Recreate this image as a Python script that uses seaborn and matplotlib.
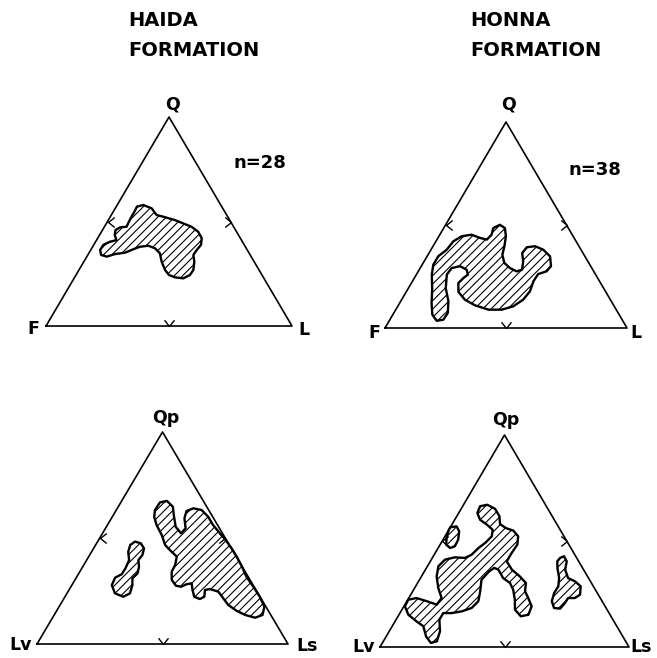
import numpy as np
import pandas as pd
import matplotlib
matplotlib.use("Agg")
import matplotlib.pyplot as plt
import seaborn as sns
from matplotlib.path import Path

# Haida Formation, Q-F-L field outline (% Q, % L; F is the rest)
haida_qfl_q = [54.7, 57.1, 57.9, 56.3, 53.1, 52.3, 50.7, 49.1, 47.5, 45.1, 42.0, 38.8, 36.4, 34.0,
               30.8, 26.8, 24.4, 22.8, 23.3, 24.4, 26.8, 30.8, 34.8, 37.2, 38.4, 37.9, 36.7, 35.1,
               34.4, 33.2, 34.0, 36.4, 38.8, 40.3, 41.1, 43.5, 45.9, 47.2, 47.5, 49.4, 52.3]
haida_qfl_l = [8.6, 8.4, 10.6, 14.8, 18.4, 21.5, 27.0, 31.2, 35.4, 39.3, 42.3, 43.6, 43.1, 42.9,
               44.9, 46.5, 46.3, 44.4, 40.7, 37.8, 35.0, 31.6, 28.9, 25.7, 22.4, 19.2, 17.1, 14.6,
               10.8, 8.1, 5.4, 3.8, 3.9, 5.8, 8.1, 6.2, 5.3, 6.5, 9.0, 8.8, 8.6]

# Honna Formation, Q-F-L field outline
honna_qfl_q = [50.1, 48.5, 44.5, 39.7, 35.6, 31.6, 29.1, 27.5, 28.3, 32.4, 36.4, 39.2, 39.7, 38.0,
               34.8, 30.0, 27.5, 26.2, 22.7, 17.8, 13.7, 10.5, 8.9, 8.9, 11.0, 13.7, 17.5, 21.8,
               24.3, 25.9, 28.3, 30.0, 29.1, 25.9, 19.4, 13.0, 7.3, 4.0, 3.5, 6.5, 12.1, 18.6,
               25.9, 30.7, 34.8, 38.0, 42.1, 44.5, 45.3, 43.7, 42.9, 45.3, 48.5]
honna_qfl_l = [22.4, 25.3, 27.7, 29.5, 30.7, 33.5, 37.1, 40.6, 42.5, 40.9, 38.5, 39.0, 42.2, 46.4,
               50.8, 53.6, 53.0, 50.2, 50.0, 51.0, 50.2, 47.7, 43.8, 38.3, 31.7, 26.2, 21.6, 19.4,
               20.3, 21.3, 19.6, 16.0, 13.0, 12.6, 15.4, 19.7, 22.3, 22.1, 19.6, 16.3, 13.2, 10.2,
               6.4, 4.6, 4.6, 6.5, 7.2, 9.4, 13.1, 17.5, 20.6, 21.4, 20.5]

# Haida Formation, Qp-Lv-Ls fields (% Qp, % Ls; Lv is the rest)
haida_qpl_small_q = [48.3, 47.5, 45.1, 42.0, 39.6, 36.5, 33.3, 31.0, 27.8, 23.9, 22.3, 23.9, 27.8,
                     31.3, 32.9, 35.7, 39.6, 43.5, 46.7]
haida_qpl_small_ls = [14.9, 17.6, 20.1, 21.0, 20.6, 22.4, 23.4, 22.5, 24.1, 25.1, 23.2, 19.1, 15.9,
                      15.5, 17.3, 17.4, 16.9, 14.6, 13.8]
haida_qpl_big_q = [63.2, 66.8, 67.5, 64.8, 60.0, 55.3, 52.2, 54.6, 59.3, 62.7, 64.0, 63.2, 60.0,
                   56.1, 52.2, 49.5, 45.1, 41.2, 36.5, 31.7, 27.0, 22.3, 17.6, 13.7, 12.4, 13.7,
                   15.6, 18.4, 22.3, 24.7, 25.9, 25.5, 22.3, 21.2, 22.3, 25.5, 28.6, 28.2, 27.0,
                   27.5, 30.2, 34.1, 37.3, 41.2, 44.3, 46.7, 51.4, 56.1, 60.0]
haida_qpl_big_ls = [15.4, 15.6, 18.0, 21.7, 24.6, 27.6, 31.3, 31.9, 29.1, 28.2, 30.3, 34.0, 38.2,
                    42.1, 46.8, 50.1, 55.0, 59.0, 63.4, 67.6, 72.7, 77.6, 81.8, 83.0, 80.7, 76.1,
                    71.8, 67.0, 62.6, 59.9, 55.9, 54.2, 55.5, 54.3, 51.5, 49.2, 47.3, 45.5, 43.9,
                    41.6, 38.6, 36.6, 36.4, 35.1, 30.8, 27.7, 24.0, 19.6, 16.7]

# Honna Formation, Qp-Lv-Ls fields
honna_qpl_oval_q = [56.5, 56.9, 54.6, 50.6, 47.5, 46.7, 48.3, 52.2, 55.3]
honna_qpl_oval_ls = [0.0, 2.3, 4.5, 6.1, 6.3, 4.8, 2.4, 0.7, 0.0]
honna_qpl_big_q = [66.4, 67.1, 65.2, 61.7, 58.0, 56.1, 54.9, 52.2, 48.3, 44.3, 40.4, 36.5, 33.3,
                   30.2, 26.3, 23.1, 19.2, 15.2, 14.5, 17.6, 22.3, 27.0, 30.2, 32.5, 36.5, 37.3,
                   35.7, 31.7, 26.3, 21.6, 18.4, 16.8, 16.0, 16.0, 12.9, 7.4, 2.7, 1.9, 5.0, 9.8,
                   12.1, 15.2, 19.2, 22.3, 23.1, 21.6, 20.0, 23.1, 27.8, 33.3, 38.1, 41.2, 42.3,
                   42.0, 43.5, 46.7, 49.1, 52.2, 55.3, 57.7, 60.0, 63.2]
honna_qpl_big_ls = [7.0, 9.5, 13.6, 17.1, 19.2, 22.5, 26.1, 29.4, 31.0, 30.7, 30.7, 34.7, 39.5,
                    43.5, 45.1, 48.0, 51.3, 52.0, 49.3, 45.4, 43.0, 40.0, 37.1, 33.2, 29.3, 27.2,
                    26.0, 24.9, 27.1, 28.7, 27.6, 24.4, 20.8, 17.4, 17.4, 20.4, 21.5, 19.5, 16.0,
                    12.5, 8.6, 3.8, 0.4, 0.2, 3.1, 8.0, 12.8, 13.2, 9.5, 6.1, 4.4, 5.5, 8.9, 13.1,
                    15.0, 16.2, 17.7, 18.8, 17.6, 14.1, 10.2, 7.5]
honna_qpl_right_q = [42.0, 42.8, 40.4, 36.5, 32.5, 31.0, 28.6, 24.7, 23.1, 23.1, 20.8, 18.1, 18.4,
                     21.6, 25.5, 28.6, 32.5, 37.3, 40.4]
honna_qpl_right_ls = [51.3, 52.5, 54.8, 56.1, 59.3, 62.8, 66.3, 68.0, 66.7, 64.0, 63.9, 63.3, 60.7,
                      58.2, 57.2, 57.3, 55.7, 52.6, 51.0]

titles = ["HAIDA", "HONNA"]
sample_counts = [28, 38]

sns.set_theme(style="white")
plt.rcParams["font.family"] = ["DejaVu Sans"]
plt.rcParams["text.color"] = "black"
plt.rcParams["hatch.linewidth"] = 0.8

FW, FH = 657, 658
fig = plt.figure(figsize=(FW / 100, FH / 100), dpi=100)


def tern(top, right):
    # ternary composition -> triangle frame (base 0..1, apex at height 1)
    top = np.asarray(top) / 100.0
    right = np.asarray(right) / 100.0
    return right + top / 2.0, top


def ftext(x, y, s, size=10, ha="center"):
    fig.text(x / FW, 1 - y / FH, s, ha=ha, va="center", fontsize=size, fontweight="bold",
             color="black")


# pixel layout of each triangle: left corner x, base width, base y, height
panels = [
    dict(box=(46, 246, 326, 209), fields=[(haida_qfl_q, haida_qfl_l)],
         labels=[("Q", 172, 104), ("F", 33, 329), ("L", 304, 330)], n=(260, 163)),
    dict(box=(385, 242, 328, 206), fields=[(honna_qfl_q, honna_qfl_l)],
         labels=[("Q", 509, 105), ("F", 374, 333), ("L", 636, 333)], n=(595, 170)),
    dict(box=(37, 251, 644, 212),
         fields=[(haida_qpl_small_q, haida_qpl_small_ls), (haida_qpl_big_q, haida_qpl_big_ls)],
         labels=[("Qp", 166, 418), ("Lv", 21, 645), ("Ls", 307, 646)], n=None),
    dict(box=(380, 249, 647, 212),
         fields=[(honna_qpl_oval_q, honna_qpl_oval_ls), (honna_qpl_big_q, honna_qpl_big_ls),
                 (honna_qpl_right_q, honna_qpl_right_ls)],
         labels=[("Qp", 506, 420), ("Lv", 364, 647), ("Ls", 641, 647)], n=None),
]

tick_left = Path([(1, 0.8), (0, 0), (1, -0.8)], [Path.MOVETO, Path.LINETO, Path.LINETO])
tick_right = Path([(-1, 0.8), (0, 0), (-1, -0.8)], [Path.MOVETO, Path.LINETO, Path.LINETO])
tick_bottom = Path([(-0.8, 1), (0, 0), (0.8, 1)], [Path.MOVETO, Path.LINETO, Path.LINETO])

for i, p in enumerate(panels):
    x0, w, yb, h = p["box"]
    ax = fig.add_axes([x0 / FW, (FH - yb) / FH, w / FW, h / FH])
    ax.set_xlim(0, 1)
    ax.set_ylim(0, 1)
    ax.axis("off")

    # triangle frame
    cu, cv = tern([0, 100, 0, 0], [0, 0, 100, 0])
    frame = pd.DataFrame({"u": cu, "v": cv})
    sns.lineplot(data=frame, x="u", y="v", sort=False, estimator=None, color="black",
                 lw=1.2, ax=ax, legend=False)
    for l in ax.lines:
        l.set_clip_on(False)

    # 50% marks on each side
    for (q, r), mk in [((50, 0), tick_left), ((50, 50), tick_right), ((0, 50), tick_bottom)]:
        mu, mv = tern([q], [r])
        ax.plot(mu, mv, marker=mk, ms=9, mew=1.0, mfc="none", mec="black", ls="none",
                clip_on=False)

    # hatched compositional fields
    for q, r in p["fields"]:
        fu, fv = tern(q, r)
        ax.fill(fu, fv, facecolor="white", edgecolor="black", hatch="////", lw=1.7,
                joinstyle="round", clip_on=False)

    for s, lx, ly in p["labels"]:
        ftext(lx, ly, s, size=12.5)
    if p["n"] is not None:
        ftext(p["n"][0], p["n"][1], f"n={sample_counts[i]}", size=13)

ftext(128, 20, titles[0], size=14, ha="left")
ftext(128, 50, "FORMATION", size=14, ha="left")
ftext(470, 21, titles[1], size=14, ha="left")
ftext(470, 50, "FORMATION", size=14, ha="left")

fig.savefig("out.png", dpi=100)
